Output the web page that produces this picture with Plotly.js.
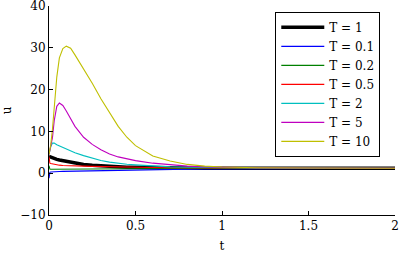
<!DOCTYPE html>
<html>
<head>
<meta charset="utf-8">
<script src="https://cdn.plot.ly/plotly-3.0.1.min.js"></script>
<style>html,body{margin:0;padding:0;background:#fff;}#chart{width:399px;height:253px;}</style>
</head>
<body>
<div id="chart"></div>
<script>
// Shared time samples
const t = [0, 0.005, 0.01, 0.02, 0.03, 0.045, 0.06, 0.08, 0.1, 0.125, 0.15, 0.2, 0.25, 0.3, 0.35, 0.4, 0.45, 0.5, 0.6, 0.7, 0.8, 0.9, 1.0, 1.2, 1.5, 2.0];

// Series values
const uT1   = [4.0, 3.9, 3.8, 3.6, 3.45, 3.3, 3.15, 3.0, 2.8, 2.6, 2.4, 2.1, 1.9, 1.75, 1.6, 1.5, 1.45, 1.4, 1.3, 1.25, 1.22, 1.2, 1.2, 1.2, 1.2, 1.2];
const uT01  = [-1.2, 0.2, 0.3, 0.35, 0.38, 0.4, 0.42, 0.44, 0.46, 0.48, 0.5, 0.55, 0.6, 0.65, 0.7, 0.74, 0.78, 0.82, 0.88, 0.94, 0.98, 1.02, 1.05, 1.1, 1.15, 1.2];
const uT02  = [1.8, 1.0, 0.95, 0.95, 0.95, 0.95, 0.95, 0.96, 0.97, 0.98, 0.99, 1.0, 1.02, 1.04, 1.05, 1.06, 1.07, 1.08, 1.1, 1.12, 1.14, 1.15, 1.16, 1.18, 1.19, 1.2];
const uT05  = [4.0, 2.4, 2.3, 2.2, 2.1, 2.0, 1.92, 1.85, 1.8, 1.77, 1.74, 1.7, 1.64, 1.58, 1.52, 1.47, 1.43, 1.4, 1.35, 1.3, 1.27, 1.25, 1.23, 1.21, 1.2, 1.2];
const uT2   = [4.5, 5.5, 6.3, 7.2, 7.2, 6.8, 6.5, 6.1, 5.7, 5.3, 4.9, 4.2, 3.6, 3.05, 2.65, 2.35, 2.15, 2.0, 1.72, 1.52, 1.42, 1.35, 1.3, 1.25, 1.22, 1.2];
const uT5   = [4.5, 5.5, 6.5, 8.5, 12.5, 16.0, 16.8, 16.2, 14.9, 13.0, 11.2, 8.6, 6.9, 5.6, 4.6, 3.9, 3.4, 3.0, 2.4, 2.0, 1.7, 1.5, 1.4, 1.3, 1.25, 1.2];
const uT10  = [4.5, 5.5, 6.8, 10.5, 15.5, 23.0, 27.6, 29.8, 30.4, 29.9, 28.3, 25.0, 21.5, 17.8, 14.6, 11.2, 8.6, 6.6, 4.1, 2.9, 2.1, 1.7, 1.5, 1.3, 1.25, 1.2];

const seriesNames = ['T = 1', 'T = 0.1', 'T = 0.2', 'T = 0.5', 'T = 2', 'T = 5', 'T = 10'];
const seriesValues = [uT1, uT01, uT02, uT05, uT2, uT5, uT10];
const seriesColors = ['#000000', '#0000ff', '#008000', '#ff0000', '#00bfbf', '#bf00bf', '#bfbf00'];
const seriesWidths = [3.5, 1.1, 1.1, 1.1, 1.1, 1.1, 1.1];

const xTickVals = [0, 0.5, 1, 1.5, 2];
const xTickLabels = ['0', '0.5', '1', '1.5', '2'];
const yTickVals = [-10, 0, 10, 20, 30, 40];
const yTickLabels = ['\u221210', '0', '10', '20', '30', '40'];

const font = 'DejaVu Serif';

const traces = seriesNames.map((name, i) => ({
  x: t,
  y: seriesValues[i],
  name: name,
  type: 'scatter',
  mode: 'lines',
  line: {color: seriesColors[i], width: seriesWidths[i]}
}));

const axisCommon = {
  showgrid: false,
  zeroline: false,
  showline: true,
  linecolor: '#000',
  linewidth: 1,
  ticks: 'inside',
  ticklen: 4,
  tickcolor: '#000',
  tickwidth: 1,
  tickfont: {family: font, size: 12, color: '#000'},
  ticklabeloverflow: 'allow',
  mirror: false
};

const layout = {
  width: 399,
  height: 253,
  margin: {l: 49, r: 4, t: 6, b: 38},
  paper_bgcolor: '#fff',
  plot_bgcolor: '#fff',
  font: {family: font, size: 12, color: '#000'},
  showlegend: true,
  xaxis: Object.assign({}, axisCommon, {
    range: [0, 2],
    tickmode: 'array',
    tickvals: xTickVals,
    ticktext: xTickLabels,
    title: {text: 't', font: {family: font, size: 12, color: '#000'}, standoff: 10}
  }),
  yaxis: Object.assign({}, axisCommon, {
    range: [-10, 40],
    tickmode: 'array',
    tickvals: yTickVals,
    ticktext: yTickLabels,
    title: {text: 'u', font: {family: font, size: 12, color: '#000'}, standoff: 14}
  }),
  legend: {
    x: 0.654,
    y: 0.972,
    xanchor: 'left',
    yanchor: 'top',
    bgcolor: '#fff',
    bordercolor: '#000',
    borderwidth: 1,
    font: {family: font, size: 12, color: '#000'},
    itemwidth: 43,
    tracegroupgap: 0
  }
};

Plotly.newPlot('chart', traces, layout, {displayModeBar: false, staticPlot: true});
</script>
</body>
</html>
